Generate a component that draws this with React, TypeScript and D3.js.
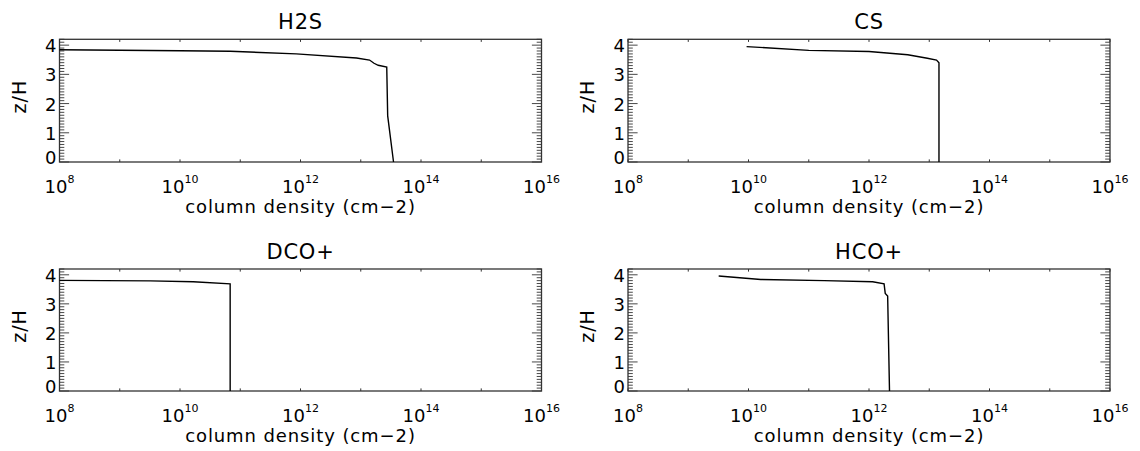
import React from "react";
import * as d3 from "d3";

// column density (cm-2) vs z/H, one profile per species
const speciesNames = ["H2S", "CS", "DCO+", "HCO+"];

const h2sDensity = [1e8, 1e10, 6.8e10, 8.5e11, 8.5e12, 1.4e13, 1.66e13, 1.95e13, 2.7e13, 2.8e13, 3.5e13];
const h2sHeight = [3.84, 3.81, 3.79, 3.7, 3.56, 3.49, 3.38, 3.31, 3.25, 1.58, 0];

const csDensity = [9.3e9, 1.0e11, 1.0e12, 4.4e12, 9.3e12, 1.32e13, 1.45e13, 1.45e13];
const csHeight = [3.95, 3.82, 3.78, 3.67, 3.55, 3.49, 3.4, 0];

const dcoDensity = [1e8, 3.2e9, 1.66e10, 6.8e10, 6.8e10];
const dcoHeight = [3.81, 3.79, 3.76, 3.69, 0];

const hcoDensity = [3.2e9, 1.6e10, 1.8e11, 1.15e12, 1.78e12, 1.86e12, 2.04e12, 2.19e12];
const hcoHeight = [3.96, 3.84, 3.8, 3.76, 3.69, 3.36, 3.27, 0];

const xLabelExponents = [8, 10, 12, 14, 16];
const yLabels = [0, 1, 2, 3, 4];

const xTitle = "column density (cm\u22122)";
const yTitle = "z/H";

const W = 1140;
const H = 451;
const FONT = "DejaVu Sans";

// panel boxes in page pixels
const frames = [
  { x0: 59.5, x1: 541.5, y0: 39.3, y1: 162 },
  { x0: 628, x1: 1110, y0: 39.3, y1: 162 },
  { x0: 59.5, x1: 541.5, y0: 269, y1: 391 },
  { x0: 628, x1: 1110, y0: 269, y1: 391 },
];

const series = [
  { n: h2sDensity, z: h2sHeight },
  { n: csDensity, z: csHeight },
  { n: dcoDensity, z: dcoHeight },
  { n: hcoDensity, z: hcoHeight },
];

type Frame = { x0: number; x1: number; y0: number; y1: number };

function Panel({ f, title, n, z }: { f: Frame; title: string; n: number[]; z: number[] }) {
  const x = d3.scaleLog().domain([1e8, 1e16]).range([f.x0, f.x1]);
  const y = d3.scaleLinear().domain([0, 4.2]).range([f.y1, f.y0]);

  const line = d3
    .line<number>()
    .x((_, i) => x(n[i]))
    .y((d) => y(d));

  const decades = d3.range(8, 17).map((e) => Math.pow(10, e));
  const minorY = d3.range(0, 43).map((i) => i / 10);
  const axisColor = "#333";
  const cx = (f.x0 + f.x1) / 2;
  const cy = (f.y0 + f.y1) / 2;

  return (
    <g>
      {/* frame */}
      <rect
        x={f.x0}
        y={f.y0}
        width={f.x1 - f.x0}
        height={f.y1 - f.y0}
        fill="none"
        stroke={axisColor}
        strokeWidth={1.3}
      />

      {/* x ticks, top and bottom, pointing inward */}
      {decades.map((d, i) => (
        <g key={"xt" + i} stroke={axisColor} strokeWidth={1}>
          <line x1={x(d)} x2={x(d)} y1={f.y1} y2={f.y1 - 2.6} />
          <line x1={x(d)} x2={x(d)} y1={f.y0} y2={f.y0 + 2.6} />
        </g>
      ))}

      {/* y ticks, left and right */}
      {minorY.map((v, i) => {
        const major = i % 10 === 0;
        const len = major ? 9.6 : 4.8;
        return (
          <g key={"yt" + i} stroke={axisColor} strokeWidth={0.9}>
            <line x1={f.x0} x2={f.x0 + len} y1={y(v)} y2={y(v)} />
            <line x1={f.x1} x2={f.x1 - len} y1={y(v)} y2={y(v)} />
          </g>
        );
      })}

      {/* data */}
      <path d={line(z) ?? ""} fill="none" stroke="#000" strokeWidth={1.4} />

      {/* x tick labels */}
      {xLabelExponents.map((e) => (
        <text
          key={"xl" + e}
          x={x(Math.pow(10, e))}
          y={f.y1 + 31}
          textAnchor="middle"
          fontFamily={FONT}
          fontSize={18}
          fill="#000"
        >
          10
          <tspan fontSize={11} dy={-10}>
            {e}
          </tspan>
        </text>
      ))}

      {/* y tick labels */}
      {yLabels.map((v) => (
        <text
          key={"yl" + v}
          x={f.x0 - 3}
          y={Math.min(y(v) + 7, f.y1 + 1.5)}
          textAnchor="end"
          fontFamily={FONT}
          fontSize={18}
          fill="#000"
        >
          {v}
        </text>
      ))}

      {/* titles */}
      <text
        x={cx}
        y={f.y0 - 10}
        textAnchor="middle"
        fontFamily={FONT}
        fontSize={21}
        letterSpacing={0.8}
        fill="#000"
      >
        {title}
      </text>
      <text
        x={cx}
        y={f.y1 + 51}
        textAnchor="middle"
        fontFamily={FONT}
        fontSize={18}
        letterSpacing={0.9}
        fill="#000"
      >
        {xTitle}
      </text>
      <text
        transform={`translate(${f.x0 - 34},${cy - 4}) rotate(-90)`}
        textAnchor="middle"
        fontFamily={FONT}
        fontSize={19}
        letterSpacing={1}
        fill="#000"
      >
        {yTitle}
      </text>
    </g>
  );
}

export default function App() {
  return (
    <svg
      width={W}
      height={H}
      viewBox={`0 0 ${W} ${H}`}
      style={{ position: "absolute", left: 0, top: 0, background: "#fff" }}
    >
      <rect width={W} height={H} fill="#fff" />
      {frames.map((f, i) => (
        <Panel key={speciesNames[i]} f={f} title={speciesNames[i]} n={series[i].n} z={series[i].z} />
      ))}
    </svg>
  );
}
